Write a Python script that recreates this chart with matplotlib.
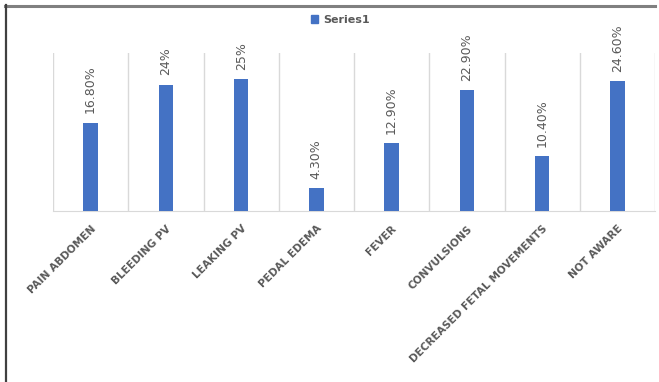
import matplotlib.pyplot as plt
from matplotlib.lines import Line2D
from matplotlib.patches import Patch
import numpy as np

categories = ['PAIN ABDOMEN', 'BLEEDING PV', 'LEAKING PV', 'PEDAL EDEMA',
              'FEVER', 'CONVULSIONS', 'DECREASED FETAL MOVEMENTS', 'NOT AWARE']
values = [16.8, 24, 25, 4.3, 12.9, 22.9, 10.4, 24.6]
value_labels = ['16.80%', '24%', '25%', '4.30%', '12.90%', '22.90%', '10.40%', '24.60%']

bar_color = '#4472c4'
text_color = '#595959'
grid_color = '#d9d9d9'

fig = plt.figure(figsize=(6.59, 3.82), dpi=100)
ax = fig.add_axes([53 / 659, 1 - 211 / 382, (655 - 53) / 659, (211 - 53) / 382])

x = np.arange(len(categories))
ax.bar(x, values, width=0.19, color=bar_color, zorder=3)
ax.set_xlim(-0.5, len(categories) - 0.5)
ax.set_ylim(0, 30)

# category separators
for b in np.arange(-0.5, len(categories), 1.0):
    ax.axvline(b, color=grid_color, lw=1, zorder=1)

for xi, v, lab in zip(x, values, value_labels):
    ax.text(xi, v + 1.8, lab, rotation=90, ha='center', va='bottom',
            fontsize=9, color=text_color)

for s in ['top', 'right', 'left']:
    ax.spines[s].set_visible(False)
ax.spines['bottom'].set_color(grid_color)
ax.set_yticks([])
ax.set_xticks(x)
ax.set_xticklabels(categories, rotation=45, ha='right', rotation_mode='anchor',
                   fontsize=7.6, fontweight='bold', color=text_color)
ax.tick_params(axis='x', length=0, pad=9)

fig.legend(handles=[Patch(color=bar_color, label='Series1')],
           loc='center', bbox_to_anchor=(340 / 659, 1 - 20 / 382), frameon=False,
           handlelength=0.7, handleheight=0.7, handletextpad=0.4,
           labelcolor=text_color, prop={'weight': 'bold', 'size': 8})

# outer frame lines
fig.add_artist(Line2D([5 / 659, 655 / 659], [1 - 5.5 / 382] * 2, color='#808080', lw=2.2))
fig.add_artist(Line2D([5.5 / 659] * 2, [0, 1 - 5 / 382], color='#404040', lw=1.6))

fig.savefig('out.png', dpi=100)
